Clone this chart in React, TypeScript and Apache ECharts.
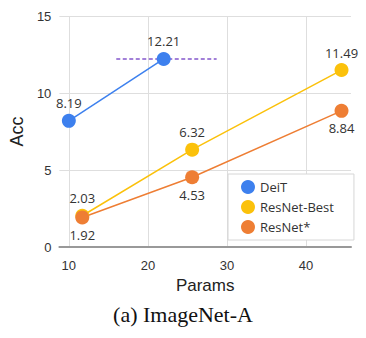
import React, { useEffect, useRef } from "react";
import * as echarts from "echarts";

const xTicks = [10, 20, 30, 40];
const deitParams = [10, 22];
const deitAcc = [8.19, 12.21];
const resnetParams = [11.7, 25.6, 44.5];
const resnetBestAcc = [2.03, 6.32, 11.49];
const resnetStarAcc = [1.92, 4.53, 8.84];
const refLineX = [16, 28.7];
const refLineY = 12.21;

const seriesNames = ["DeiT", "ResNet-Best", "ResNet*"];
const colors = ["#3d80ee", "#fbc10b", "#ee7e34"];

export default function App() {
  const ref = useRef<HTMLDivElement>(null);
  useEffect(() => {
    const chart = echarts.init(ref.current!, null, { renderer: "svg" });
    const labelStyle = {
      show: true,
      fontSize: 13,
      color: "#333",
      fontFamily: "Open Sans, Liberation Sans, sans-serif",
      distance: 4,
    };
    const mk = (name: string, xs: number[], ys: number[], color: string, pos: string) => ({
      name,
      type: "line",
      data: xs.map((x, i) => [x, ys[i]]),
      symbol: "circle",
      symbolSize: 14,
      itemStyle: { color },
      lineStyle: { color, width: 1.5 },
      label: { ...labelStyle, position: pos },
    });
    const purple = "#8457cc";
    const s0: any = mk(seriesNames[0], deitParams, deitAcc, colors[0], "top");
    s0.markLine = {
      silent: true,
      symbol: "none",
      z: 1,
      label: { show: false },
      lineStyle: { color: purple, type: [4, 2.5], width: 1.5, opacity: 1 },
      data: [
        [
          { coord: [refLineX[0], refLineY], lineStyle: { color: purple } },
          { coord: [refLineX[1], refLineY] },
        ],
      ],
    };
    const s1: any = mk(seriesNames[1], resnetParams, resnetBestAcc, colors[1], "top");
    const s2: any = mk(seriesNames[2], resnetParams, resnetStarAcc, colors[2], "bottom");
    chart.setOption({
      animation: false,
      grid: { left: 58, right: 15, top: 16, bottom: 91 },
      xAxis: {
        type: "value",
        min: 8.8,
        max: 45.7,
        name: "Params",
        nameLocation: "middle",
        nameGap: 30,
        nameTextStyle: { fontSize: 17, color: "#222", fontFamily: "Liberation Sans, Arial, sans-serif" },
        axisLine: { show: true, lineStyle: { color: "#999", width: 2 } },
        axisTick: { show: false, customValues: xTicks },
        axisLabel: { customValues: xTicks, fontSize: 13, color: "#333", margin: 12, fontFamily: "Liberation Sans, Arial, sans-serif" },
        splitLine: { show: true, lineStyle: { color: "#dedede", width: 1 } },
      },
      yAxis: {
        type: "value",
        min: 0,
        max: 15,
        interval: 5,
        name: "Acc",
        nameLocation: "middle",
        nameGap: 29,
        nameTextStyle: { fontSize: 18, color: "#222", fontFamily: "Liberation Sans, Arial, sans-serif" },
        axisLine: { show: false },
        axisTick: { show: false },
        axisLabel: { fontSize: 13, color: "#333", margin: 8, fontFamily: "Liberation Sans, Arial, sans-serif" },
        splitLine: { show: true, lineStyle: { color: "#dedede", width: 1 } },
      },
      legend: {
        data: seriesNames,
        orient: "vertical",
        left: 228,
        top: 174,
        width: 126,
        padding: [6, 20, 6, 13],
        itemGap: 6,
        itemWidth: 14,
        itemHeight: 14,
        icon: "circle",
        backgroundColor: "#fff",
        borderColor: "#d6d6d6",
        borderWidth: 1,
        textStyle: { fontSize: 13, color: "#333", fontFamily: "Open Sans, Liberation Sans, sans-serif" },
      },
      graphic: [
        {
          type: "text",
          left: "center",
          top: 303,
          style: {
            text: "(a) ImageNet-A",
            fontSize: 22,
            fill: "#111",
            fontFamily: "Liberation Serif, Times New Roman, serif",
          },
        },
      ],
      series: [s0, s1, s2],
    });
    return () => chart.dispose();
  }, []);
  return <div ref={ref} style={{ width: 366, height: 338, position: "absolute", left: 0, top: 0 }} />;
}
